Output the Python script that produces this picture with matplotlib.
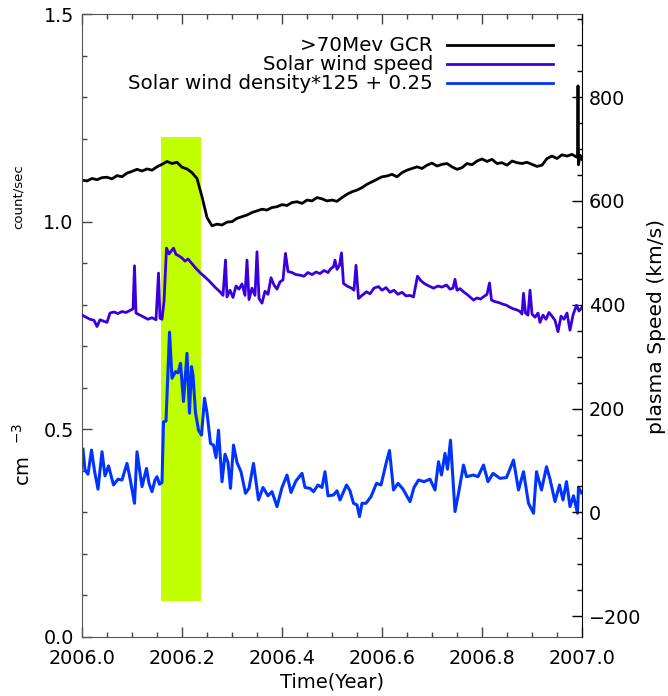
import matplotlib
matplotlib.use('Agg')
import matplotlib.pyplot as plt
import matplotlib.patches as patches
from matplotlib.ticker import MultipleLocator, FormatStrFormatter
import numpy as np

# >70 MeV GCR count rate (count/sec), sampled every 0.01 yr after 2006.0
gcr_t = [0.00, 0.01, 0.02, 0.03, 0.04, 0.05, 0.06, 0.07, 0.08, 0.09,
         0.10, 0.11, 0.12, 0.13, 0.14, 0.15, 0.16, 0.17, 0.18, 0.19,
         0.20, 0.21, 0.22, 0.23, 0.24, 0.25, 0.26, 0.27, 0.28, 0.29,
         0.30, 0.31, 0.32, 0.33, 0.34, 0.35, 0.36, 0.37, 0.38, 0.39,
         0.40, 0.41, 0.42, 0.43, 0.44, 0.45, 0.46, 0.47, 0.48, 0.49,
         0.50, 0.51, 0.52, 0.53, 0.54, 0.55, 0.56, 0.57, 0.58, 0.59,
         0.60, 0.61, 0.62, 0.63, 0.64, 0.65, 0.66, 0.67, 0.68, 0.69,
         0.70, 0.71, 0.72, 0.73, 0.74, 0.75, 0.76, 0.77, 0.78, 0.79,
         0.80, 0.81, 0.82, 0.83, 0.84, 0.85, 0.86, 0.87, 0.88, 0.89,
         0.90, 0.91, 0.92, 0.93, 0.94, 0.95, 0.96, 0.97, 0.98, 0.99,
         0.991, 0.992, 0.993, 0.996, 1.00]
gcr = [1.100, 1.098, 1.104, 1.101, 1.106, 1.107, 1.103, 1.111, 1.108, 1.117,
       1.121, 1.126, 1.122, 1.127, 1.124, 1.132, 1.138, 1.145, 1.140, 1.143,
       1.131, 1.127, 1.118, 1.104, 1.060, 1.010, 0.990, 0.994, 0.992, 0.999,
       1.000, 1.008, 1.012, 1.016, 1.022, 1.026, 1.030, 1.028, 1.034, 1.036,
       1.041, 1.039, 1.046, 1.048, 1.044, 1.052, 1.050, 1.058, 1.055, 1.050,
       1.052, 1.049, 1.058, 1.066, 1.072, 1.076, 1.082, 1.090, 1.096, 1.102,
       1.108, 1.110, 1.114, 1.108, 1.118, 1.124, 1.128, 1.132, 1.128, 1.136,
       1.141, 1.134, 1.138, 1.140, 1.132, 1.126, 1.130, 1.140, 1.137, 1.146,
       1.151, 1.145, 1.150, 1.140, 1.142, 1.136, 1.146, 1.142, 1.140, 1.143,
       1.138, 1.133, 1.136, 1.152, 1.158, 1.152, 1.161, 1.158, 1.162, 1.155,
       1.160, 1.327, 1.137, 1.160, 1.150]

# solar wind speed (km/s)
spd_t = [0.000, 0.008, 0.016, 0.024, 0.030, 0.036, 0.044, 0.050, 0.056, 0.064,
         0.072, 0.080, 0.088, 0.096, 0.102, 0.105, 0.108, 0.116, 0.124, 0.132,
         0.140, 0.148, 0.153, 0.156, 0.160, 0.164, 0.169, 0.174, 0.178, 0.183,
         0.188, 0.194, 0.200, 0.206, 0.212, 0.220, 0.228, 0.236, 0.244, 0.252,
         0.260, 0.268, 0.276, 0.282, 0.287, 0.290, 0.296, 0.302, 0.308, 0.314,
         0.320, 0.326, 0.330, 0.334, 0.340, 0.346, 0.350, 0.354, 0.360, 0.366,
         0.372, 0.378, 0.384, 0.390, 0.396, 0.402, 0.407, 0.412, 0.420, 0.428,
         0.436, 0.444, 0.452, 0.460, 0.468, 0.476, 0.484, 0.492, 0.498, 0.503,
         0.506, 0.510, 0.515, 0.519, 0.523, 0.530, 0.539, 0.544, 0.548, 0.553,
         0.560, 0.569, 0.576, 0.584, 0.593, 0.600, 0.608, 0.616, 0.624, 0.632,
         0.640, 0.648, 0.656, 0.663, 0.671, 0.678, 0.686, 0.694, 0.703, 0.712,
         0.720, 0.729, 0.736, 0.742, 0.746, 0.750, 0.756, 0.763, 0.770, 0.777,
         0.783, 0.790, 0.797, 0.804, 0.810, 0.815, 0.819, 0.826, 0.834, 0.842,
         0.849, 0.856, 0.863, 0.870, 0.876, 0.880, 0.883, 0.887, 0.892, 0.896,
         0.900, 0.906, 0.912, 0.916, 0.922, 0.928, 0.934, 0.940, 0.946, 0.952,
         0.958, 0.964, 0.970, 0.976, 0.982, 0.989, 0.994, 1.000]
speed = [380, 376, 372, 370, 358, 371, 368, 366, 384, 386,
         383, 387, 385, 389, 392, 475, 384, 380, 376, 372,
         375, 371, 461, 374, 372, 406, 509, 498, 503, 509,
         497, 494, 490, 484, 488, 479, 470, 462, 455, 448,
         440, 432, 425, 418, 486, 415, 428, 414, 436, 430,
         440, 418, 486, 410, 432, 418, 502, 412, 403, 426,
         420, 452, 438, 430, 444, 448, 499, 464, 462, 458,
         457, 455, 462, 458, 463, 460, 466, 462, 470, 473,
         486, 468, 476, 500, 441, 436, 432, 428, 476, 412,
         418, 425, 421, 432, 435, 428, 433, 424, 428, 420,
         424, 417, 418, 415, 455, 446, 440, 436, 432, 436,
         434, 438, 430, 432, 449, 428, 431, 425, 420, 414,
         409, 413, 411, 416, 420, 442, 409, 406, 404, 401,
         399, 395, 392, 390, 387, 382, 422, 384, 380, 428,
         382, 376, 384, 366, 380, 372, 385, 378, 370, 348,
         378, 372, 384, 351, 380, 399, 388, 395]

# solar wind density, scaled as density*125 + 0.25
den_t = [0.002, 0.006, 0.012, 0.019, 0.025, 0.032, 0.040, 0.046, 0.053, 0.063,
         0.072, 0.080, 0.090, 0.096, 0.105, 0.110, 0.120, 0.129, 0.134, 0.140,
         0.146, 0.150, 0.155, 0.160, 0.163, 0.168, 0.175, 0.180, 0.187, 0.192,
         0.197, 0.203, 0.210, 0.215, 0.219, 0.222, 0.227, 0.233, 0.239, 0.245,
         0.250, 0.257, 0.263, 0.268, 0.273, 0.280, 0.286, 0.292, 0.297, 0.303,
         0.310, 0.318, 0.327, 0.334, 0.343, 0.353, 0.362, 0.372, 0.380, 0.390,
         0.400, 0.410, 0.418, 0.428, 0.440, 0.446, 0.456, 0.463, 0.472, 0.480,
         0.486, 0.492, 0.503, 0.510, 0.516, 0.529, 0.536, 0.543, 0.550, 0.555,
         0.560, 0.568, 0.578, 0.589, 0.598, 0.609, 0.615, 0.623, 0.632, 0.642,
         0.656, 0.664, 0.673, 0.684, 0.696, 0.706, 0.713, 0.719, 0.726, 0.731,
         0.737, 0.741, 0.746, 0.753, 0.763, 0.769, 0.783, 0.792, 0.803, 0.812,
         0.822, 0.836, 0.849, 0.863, 0.873, 0.883, 0.893, 0.903, 0.909, 0.919,
         0.929, 0.936, 0.946, 0.955, 0.962, 0.969, 0.976, 0.983, 0.991, 0.993,
         0.999]
density = [0.452, 0.402, 0.392, 0.450, 0.400, 0.356, 0.446, 0.388, 0.412, 0.366,
           0.380, 0.378, 0.418, 0.382, 0.322, 0.446, 0.362, 0.406, 0.370, 0.350,
           0.378, 0.386, 0.368, 0.372, 0.518, 0.520, 0.734, 0.623, 0.639, 0.636,
           0.659, 0.567, 0.683, 0.539, 0.651, 0.630, 0.540, 0.498, 0.486, 0.575,
           0.540, 0.466, 0.462, 0.432, 0.498, 0.374, 0.440, 0.420, 0.358, 0.462,
           0.420, 0.398, 0.346, 0.358, 0.418, 0.330, 0.360, 0.340, 0.350, 0.314,
           0.360, 0.390, 0.348, 0.376, 0.394, 0.360, 0.358, 0.350, 0.366, 0.360,
           0.398, 0.340, 0.342, 0.352, 0.330, 0.366, 0.352, 0.322, 0.318, 0.290,
           0.322, 0.322, 0.338, 0.370, 0.366, 0.422, 0.449, 0.354, 0.370, 0.356,
           0.326, 0.360, 0.378, 0.374, 0.380, 0.354, 0.422, 0.390, 0.442, 0.404,
           0.474, 0.398, 0.302, 0.346, 0.414, 0.386, 0.390, 0.386, 0.414, 0.374,
           0.394, 0.382, 0.384, 0.426, 0.354, 0.398, 0.322, 0.298, 0.398, 0.354,
           0.410, 0.380, 0.326, 0.366, 0.330, 0.374, 0.314, 0.340, 0.298, 0.360,
           0.347]

# highlighted interval (years) and its vertical extent in count/sec units
band_t = [2006.157, 2006.237]
band_y = [0.087, 1.204]

legend_labels = ['>70Mev GCR', 'Solar wind speed', 'Solar wind density*125 + 0.25']

c_gcr = 'black'
c_spd = '#3a00dc'
c_den = '#0033ff'
c_band = '#bfff00'

fig = plt.figure(figsize=(6.68, 6.96), dpi=100)
ax = fig.add_axes([82 / 668, 59 / 696, 500 / 668, 623 / 696])
ax2 = ax.twinx()

ax.add_patch(patches.Rectangle((band_t[0], band_y[0]), band_t[1] - band_t[0],
                               band_y[1] - band_y[0], facecolor=c_band,
                               edgecolor='none', zorder=0))

ax.plot(2006 + np.array(gcr_t), gcr, color=c_gcr, lw=2.0)
ax.plot(2006 + np.array(den_t), density, color=c_den, lw=2.2)
ax2.plot(2006 + np.array(spd_t), speed, color=c_spd, lw=2.0)

ax.set_xlim(2006.0, 2007.0)
ax.set_ylim(0.0, 1.5)
ax2.set_ylim(-240, 960)

ax.xaxis.set_major_locator(MultipleLocator(0.2))
ax.xaxis.set_minor_locator(MultipleLocator(0.05))
ax.xaxis.set_major_formatter(FormatStrFormatter('%.1f'))
ax.yaxis.set_major_locator(MultipleLocator(0.5))
ax.yaxis.set_minor_locator(MultipleLocator(0.1))
ax.yaxis.set_major_formatter(FormatStrFormatter('%.1f'))
ax2.yaxis.set_major_locator(MultipleLocator(200))
ax2.yaxis.set_minor_locator(MultipleLocator(50))

ax.tick_params(axis='x', which='both', direction='in', top=True, labelsize=13.8, pad=9)
ax.tick_params(axis='y', which='both', direction='in', right=False, labelsize=13.8, pad=6)
ax2.tick_params(axis='y', which='both', direction='in', labelsize=13.8, pad=5)
for a in (ax, ax2):
    a.tick_params(which='major', length=7, width=1)
    a.tick_params(which='minor', length=3.6, width=1)

for s in ('left', 'bottom', 'top'):
    ax.spines[s].set_color('#555555')
    ax2.spines[s].set_visible(False)
ax.spines['right'].set_visible(False)
ax2.spines['right'].set_color('black')
ax.tick_params(axis='both', which='both', color='#444444')

# legend: right-aligned text with a short line sample after it
for i, (lab, col) in enumerate(zip(legend_labels, [c_gcr, c_spd, c_den])):
    y = 0.950 - i * 0.0305
    ax.text(0.702, y, lab, transform=ax.transAxes, ha='right', va='center', fontsize=14.3)
    ax.plot([0.730, 0.942], [y, y], transform=ax.transAxes, color=col, lw=2.0)

fig.text(18 / 668, 1 - 197 / 696, 'count/sec', rotation=90, ha='center', va='center', fontsize=9.5)
fig.text(23 / 668, 1 - 454 / 696, 'cm  $^{-3}$', rotation=90, ha='center', va='center', fontsize=14)
fig.text(657 / 668, 1 - 326 / 696, 'plasma Speed (km/s)', rotation=90, ha='center', va='center', fontsize=14.6)
fig.text(332 / 668, 1 - 682 / 696, 'Time(Year)', ha='center', va='center', fontsize=14)

fig.savefig('out.png', dpi=100)
